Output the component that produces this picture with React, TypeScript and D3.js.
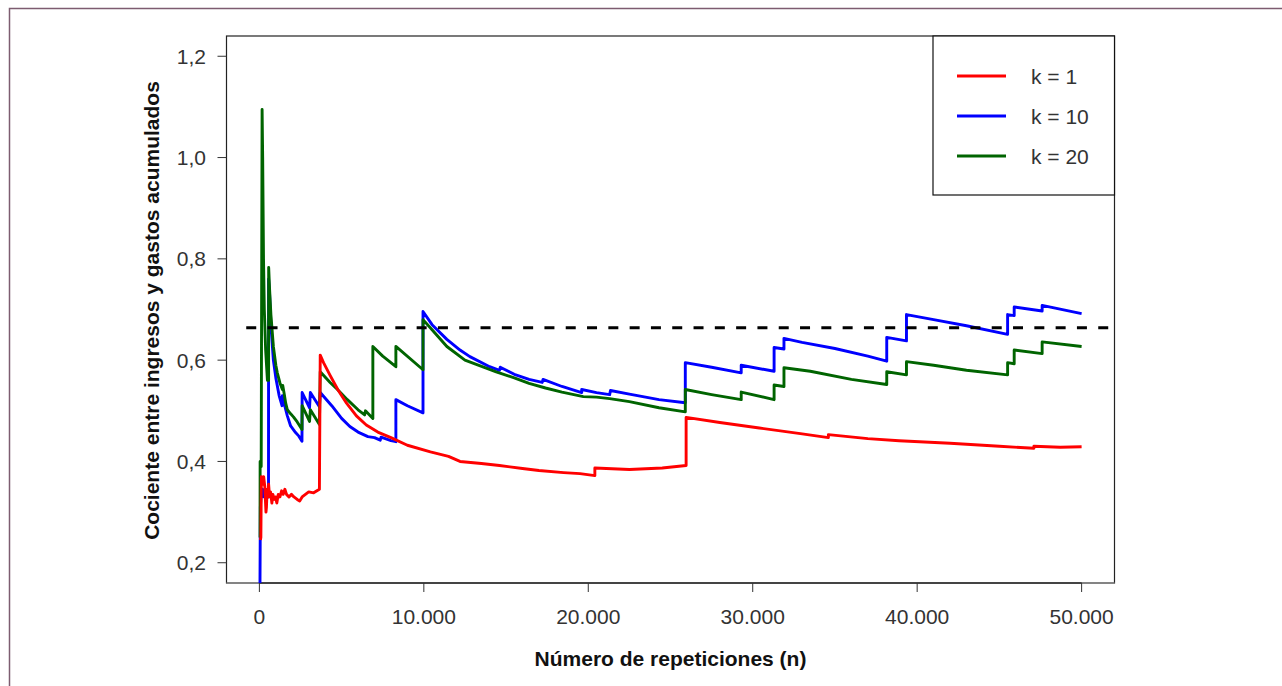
import React from "react";
import * as d3 from "d3";

// axis ticks and reference level
const xTicks = [0, 10000, 20000, 30000, 40000, 50000];
const yTicks = [0.2, 0.4, 0.6, 0.8, 1.0, 1.2];
const refLevel = 0.664;

const seriesNames = ["k = 1", "k = 10", "k = 20"];
const seriesColors = ["#ff0000", "#0000ff", "#006400"];

// [repeticiones, cociente]
const k1: [number, number][] = [
  [60, 0.245], [90, 0.25], [120, 0.37], [200, 0.355], [260, 0.37], [330, 0.35], [400, 0.3],
  [430, 0.31], [470, 0.345], [520, 0.33], [560, 0.355], [620, 0.33], [680, 0.34], [760, 0.318],
  [820, 0.335], [900, 0.325], [980, 0.33], [1060, 0.318], [1150, 0.335], [1250, 0.33],
  [1350, 0.342], [1450, 0.335], [1550, 0.345], [1650, 0.335], [1800, 0.33], [1950, 0.335],
  [2100, 0.33], [2300, 0.325], [2450, 0.322], [2600, 0.33], [2800, 0.335], [3000, 0.34],
  [3300, 0.338], [3650, 0.345], [3700, 0.61], [3900, 0.595], [4300, 0.57], [4800, 0.54],
  [5300, 0.515], [5900, 0.49], [6500, 0.472], [7200, 0.458], [8000, 0.447], [9000, 0.432],
  [10400, 0.419], [11500, 0.41], [12200, 0.4], [13500, 0.396], [14600, 0.392], [16000, 0.386],
  [17000, 0.382], [18500, 0.378], [19500, 0.376], [20400, 0.372], [20400, 0.387], [22500, 0.384],
  [24500, 0.387], [25950, 0.392], [25950, 0.487], [28000, 0.477], [30400, 0.466], [32900, 0.455],
  [34600, 0.447], [34600, 0.453], [37000, 0.445], [38900, 0.441], [42000, 0.436], [45000, 0.43],
  [47100, 0.426], [47100, 0.43], [48700, 0.428], [50000, 0.429],
];

const k10: [number, number][] = [
  [30, 0.12], [60, 0.31], [120, 0.34], [200, 0.345], [260, 0.33], [330, 0.33], [400, 0.33],
  [470, 0.335], [555, 0.33], [560, 0.76], [620, 0.73], [700, 0.67], [850, 0.6], [1000, 0.565],
  [1200, 0.53], [1380, 0.51], [1400, 0.53], [1500, 0.515], [1700, 0.49], [1900, 0.47],
  [2200, 0.457], [2400, 0.45], [2590, 0.44], [2600, 0.536], [3050, 0.506], [3100, 0.536],
  [3650, 0.508], [3700, 0.536], [4400, 0.51], [5000, 0.485], [5500, 0.469], [6000, 0.458],
  [6600, 0.449], [7000, 0.447], [7350, 0.442], [7400, 0.448], [8000, 0.441], [8300, 0.439],
  [8300, 0.522], [9000, 0.51], [9950, 0.496], [9950, 0.696], [10500, 0.67], [11400, 0.641],
  [12200, 0.62], [12800, 0.607], [14000, 0.587], [14600, 0.58], [14650, 0.586], [15500, 0.572],
  [16400, 0.562], [17200, 0.556], [17250, 0.562], [18400, 0.548], [19600, 0.536], [19600, 0.542],
  [20500, 0.536], [21300, 0.532], [21350, 0.54], [22500, 0.533], [24300, 0.522], [25900, 0.516],
  [25900, 0.595], [27500, 0.586], [29300, 0.575], [29300, 0.59], [31300, 0.578], [31300, 0.625],
  [31900, 0.622], [31900, 0.643], [33000, 0.635], [35000, 0.623], [37000, 0.608], [38150, 0.598],
  [38150, 0.645], [39350, 0.638], [39350, 0.69], [41000, 0.68], [43000, 0.668], [45500, 0.651],
  [45500, 0.69], [45900, 0.688], [45900, 0.705], [47600, 0.697], [47600, 0.708], [50000, 0.692],
];

const k20: [number, number][] = [
  [40, 0.25], [45, 0.4], [110, 0.39], [165, 1.095], [200, 1.0], [250, 0.8], [300, 0.7],
  [380, 0.62], [490, 0.56], [560, 0.56], [565, 0.783], [620, 0.74], [700, 0.69], [850, 0.627],
  [1000, 0.59], [1090, 0.575], [1250, 0.555], [1400, 0.542], [1420, 0.55], [1500, 0.535],
  [1600, 0.515], [1700, 0.502], [1900, 0.494], [2070, 0.488], [2300, 0.478], [2590, 0.463],
  [2600, 0.51], [3050, 0.479], [3100, 0.502], [3650, 0.473], [3700, 0.577], [4300, 0.556],
  [4750, 0.542], [5350, 0.522], [6000, 0.502], [6400, 0.492], [6450, 0.5], [6900, 0.485],
  [6900, 0.627], [7500, 0.608], [8300, 0.587], [8300, 0.627], [9950, 0.581], [9950, 0.68],
  [10500, 0.66], [11400, 0.627], [12500, 0.6], [14400, 0.577], [15500, 0.565], [16400, 0.554],
  [17400, 0.545], [18400, 0.537], [19700, 0.528], [20500, 0.527], [21300, 0.524], [22500, 0.518],
  [24300, 0.506], [25900, 0.498], [25900, 0.542], [27500, 0.532], [29300, 0.522], [29300, 0.537],
  [31300, 0.522], [31300, 0.551], [31900, 0.548], [31900, 0.585], [33500, 0.578], [36000, 0.562],
  [38150, 0.552], [38150, 0.577], [39350, 0.571], [39350, 0.597], [41000, 0.59], [43000, 0.58],
  [45500, 0.571], [45500, 0.595], [45900, 0.593], [45900, 0.62], [47600, 0.613], [47600, 0.636],
  [50000, 0.627],
];

const allSeries = [k1, k10, k20];
const drawOrder = [1, 2, 0];

const W = 1282;
const H = 686;
const box = { left: 226.5, right: 1114.5, top: 36, bottom: 583 };
const font = "'Liberation Sans', Arial, Helvetica, sans-serif";

const loc = d3.formatLocale({ decimal: ",", thousands: ".", grouping: [3], currency: ["", ""] });
const fmtX = loc.format(",d");
const fmtY = loc.format(".1f");

export default function App() {
  // R style: 4% padding around the data range
  const x = d3.scaleLinear().domain([-2000, 52000]).range([box.left, box.right]);
  const y = d3.scaleLinear().domain([0.16, 1.24]).range([box.bottom, box.top]);

  const line = d3
    .line<[number, number]>()
    .x((d) => x(d[0]))
    .y((d) => y(d[1]));

  const legend = { left: 933, top: box.top, bottom: 195 };

  return (
    <div style={{ position: "absolute", left: 0, top: 0 }}>
      <svg width={W} height={H} style={{ display: "block", background: "#fff" }}>
        <rect x={9.5} y={8.5} width={W + 20} height={H + 20} fill="none" stroke="#7d5c70" strokeWidth={1.5} />
        <defs>
          <clipPath id="plotClip">
            <rect x={box.left} y={box.top} width={box.right - box.left} height={box.bottom - box.top} />
          </clipPath>
        </defs>

        {/* plot box */}
        <rect
          x={box.left}
          y={box.top}
          width={box.right - box.left}
          height={box.bottom - box.top}
          fill="none"
          stroke="#222"
          strokeWidth={1.2}
        />
        <line x1={box.left} x2={x(0)} y1={box.bottom} y2={box.bottom} stroke="#888" strokeWidth={1.5} />
        <line x1={x(50000)} x2={box.right} y1={box.bottom} y2={box.bottom} stroke="#888" strokeWidth={1.5} />

        {/* x axis */}
        <line x1={x(0)} x2={x(50000)} y1={box.bottom} y2={box.bottom} stroke="#333" strokeWidth={1.5} />
        {xTicks.map((t) => (
          <g key={t}>
            <line x1={x(t)} x2={x(t)} y1={box.bottom} y2={box.bottom + 9} stroke="#333" strokeWidth={1} />
            <text x={x(t)} y={623.5} textAnchor="middle" fontFamily={font} fontSize={21} fill="#333">
              {fmtX(t)}
            </text>
          </g>
        ))}

        {/* y axis */}
        {yTicks.map((t) => (
          <g key={t}>
            <line x1={box.left - 9} x2={box.left} y1={y(t)} y2={y(t)} stroke="#333" strokeWidth={1} />
            <text x={206} y={y(t) + 7.5} textAnchor="end" fontFamily={font} fontSize={21} fill="#333">
              {fmtY(t)}
            </text>
          </g>
        ))}

        <text x={(box.left + box.right) / 2} y={665.5} textAnchor="middle" fontFamily={font} fontSize={21} fontWeight="bold" fill="#111">
          Número de repeticiones (n)
        </text>
        <text
          transform={`translate(159,${(box.top + box.bottom) / 2 + 1}) rotate(-90)`}
          textAnchor="middle"
          fontFamily={font}
          fontSize={21}
          fontWeight="bold"
          fill="#111"
        >
          Cociente entre ingresos y gastos acumulados
        </text>

        {/* series */}
        <g clipPath="url(#plotClip)">
          {drawOrder.map((i) => (
            <path
              key={i}
              d={line(allSeries[i]) || ""}
              fill="none"
              stroke={seriesColors[i]}
              strokeWidth={2.9}
              strokeLinejoin="round"
            />
          ))}
          <line
            x1={x(-800)}
            x2={box.right}
            y1={y(refLevel)}
            y2={y(refLevel)}
            stroke="#000"
            strokeWidth={2.9}
            strokeDasharray="10,11.3"
          />
        </g>

        {/* legend */}
        <rect
          x={legend.left}
          y={legend.top}
          width={box.right - legend.left}
          height={legend.bottom - legend.top}
          fill="#fff"
          stroke="#111"
          strokeWidth={1.2}
        />
        {seriesNames.map((name, i) => (
          <g key={name}>
            <line x1={957} x2={1006} y1={76 + i * 40} y2={76 + i * 40} stroke={seriesColors[i]} strokeWidth={3} />
            <text x={1031} y={76 + i * 40 + 7.5} fontFamily={font} fontSize={21} fill="#333">
              {name}
            </text>
          </g>
        ))}
      </svg>
    </div>
  );
}
